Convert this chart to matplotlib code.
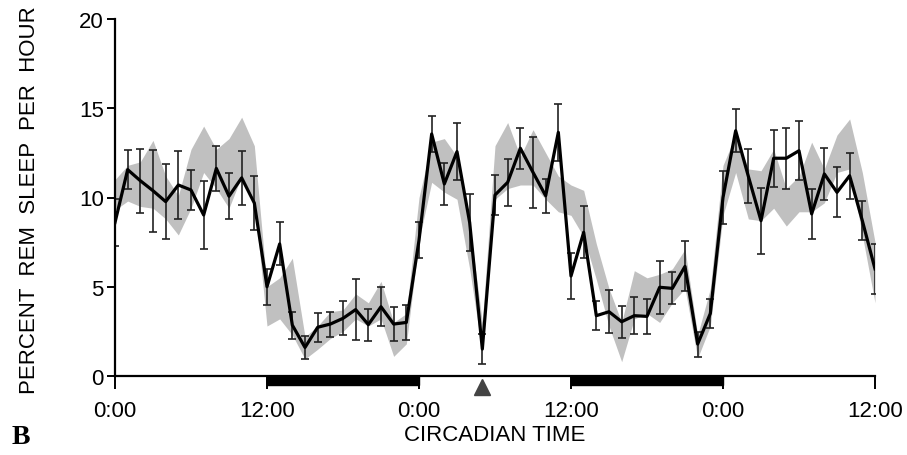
import numpy as np
import matplotlib
matplotlib.use('Agg')
import matplotlib.pyplot as plt
from matplotlib import transforms
from matplotlib.patches import Rectangle

plt.rcParams['font.family'] = ['Liberation Sans', 'DejaVu Sans']

# hourly values, circadian time 0..60 h
hours = np.arange(61)
rem_mean = [8.6, 11.56, 10.94, 10.38, 9.77, 10.7, 10.42, 9.02, 11.63, 10.07,
            11.1, 9.69, 5.0, 7.4, 2.85, 1.6, 2.73, 2.91, 3.23, 3.72,
            2.88, 3.88, 2.91, 3.0, 7.6, 13.56, 10.76, 12.57, 8.6, 1.51,
            10.14, 10.85, 12.76, 11.41, 10.1, 13.65, 5.6, 8.05, 3.38, 3.6,
            3.04, 3.38, 3.34, 4.97, 4.91, 6.14, 1.79, 3.5, 10.0, 13.74,
            11.19, 8.7, 12.2, 12.2, 12.62, 9.08, 11.32, 10.29, 11.22, 8.7,
            6.0]
rem_sem = [1.3, 1.1, 1.8, 2.3, 2.1, 1.9, 1.1, 1.9, 1.25, 1.3,
           1.5, 1.5, 1.0, 1.2, 0.75, 0.65, 0.8, 0.7, 0.95, 1.7,
           0.9, 1.1, 0.95, 1.0, 1.0, 1.0, 1.2, 1.6, 1.6, 0.85,
           1.1, 1.3, 1.15, 2.0, 0.95, 1.6, 1.3, 1.45, 0.8, 1.2,
           0.9, 1.05, 1.0, 1.5, 0.9, 1.4, 0.7, 0.8, 1.5, 1.2,
           1.5, 1.85, 1.6, 1.7, 1.65, 1.4, 1.45, 1.4, 1.3, 1.1,
           1.4]
# grey band (comparison group)
band_lo = [9.3, 9.8, 9.5, 9.4, 8.8, 7.9, 9.4, 11.4, 10.5, 9.4,
           11.2, 9.9, 2.8, 3.2, 2.3, 0.95, 1.5, 2.1, 2.5, 3.2,
           2.8, 3.2, 1.1, 1.8, 7.6, 10.85, 10.3, 9.9, 6.0, 1.3,
           9.9, 10.5, 10.7, 10.7, 9.9, 9.2, 9.0, 7.8, 5.4, 2.8,
           0.8, 3.2, 3.5, 3.0, 4.1, 4.9, 1.0, 2.8, 9.0, 11.4,
           8.8, 8.7, 9.4, 8.4, 9.2, 9.2, 9.7, 11.4, 11.6, 7.9,
           4.1]
band_hi = [11.0, 11.8, 12.0, 13.2, 11.2, 10.1, 12.7, 14.0, 12.7, 13.3,
           14.5, 12.9, 5.0, 5.5, 6.6, 2.2, 2.8, 3.6, 3.7, 4.6,
           4.1, 5.3, 3.0, 3.5, 10.0, 13.1, 13.3, 12.3, 8.5, 3.0,
           12.9, 14.2, 12.3, 13.8, 12.5, 11.2, 10.7, 10.4, 7.4, 4.9,
           3.0, 5.9, 5.5, 5.7, 6.0, 7.1, 2.3, 4.9, 11.8, 13.5,
           11.6, 11.5, 12.7, 10.5, 11.2, 13.1, 11.6, 13.5, 14.4, 11.4,
           7.5]
tick_pos = [0, 12, 24, 36, 48, 60]
tick_lab = ['0:00', '12:00', '0:00', '12:00', '0:00', '12:00']
dark_periods = [(12, 24), (36, 48)]
marker_hour = 29

fig = plt.figure(figsize=(9.07, 4.56), dpi=100)
ax = fig.add_axes([115/907, 1-377/456, 760/907, 357/456])

ax.fill_between(hours, band_lo, band_hi, color='#c0c0c0', lw=0, zorder=1)
ax.errorbar(hours, rem_mean, yerr=rem_sem, fmt='none', ecolor='#222222',
            elinewidth=1.2, capsize=2.8, capthick=1.2, zorder=2)
ax.plot(hours, rem_mean, color='k', lw=2.3, zorder=3)

ax.set_xlim(0, 60)
ax.set_ylim(0, 20)
for s in ['top', 'right']:
    ax.spines[s].set_visible(False)
for s in ['left', 'bottom']:
    ax.spines[s].set_linewidth(1.6)

ax.set_xticks(tick_pos)
ax.set_xticklabels(tick_lab)
ax.set_yticks([0, 5, 10, 15, 20])
ax.tick_params(axis='x', direction='out', length=9.5, width=1.4, pad=8, labelsize=16)
ax.tick_params(axis='y', direction='out', length=6, width=1.4, pad=2, labelsize=16)

# light/dark bars below the axis
trans = transforms.blended_transform_factory(ax.transData, ax.transAxes)
for a, b in dark_periods:
    ax.add_patch(Rectangle((a, -0.026), b - a, 0.026, transform=trans,
                           color='k', clip_on=False, zorder=4))
ax.plot([marker_hour], [-0.03], marker='^', ms=12, color='#444444',
        transform=trans, clip_on=False, zorder=4)

fig.text(30/907, 1-200/456, 'PERCENT  REM  SLEEP  PER  HOUR', rotation=90,
         ha='center', va='center', fontsize=16)
fig.text(495/907, 1-436/456, 'CIRCADIAN TIME', ha='center', va='center', fontsize=16)
fig.text(12/907, 1-438/456, 'B', ha='left', va='center', fontsize=20, weight='bold',
         family=['Liberation Serif', 'DejaVu Serif'])

fig.savefig('out.png', dpi=100)
